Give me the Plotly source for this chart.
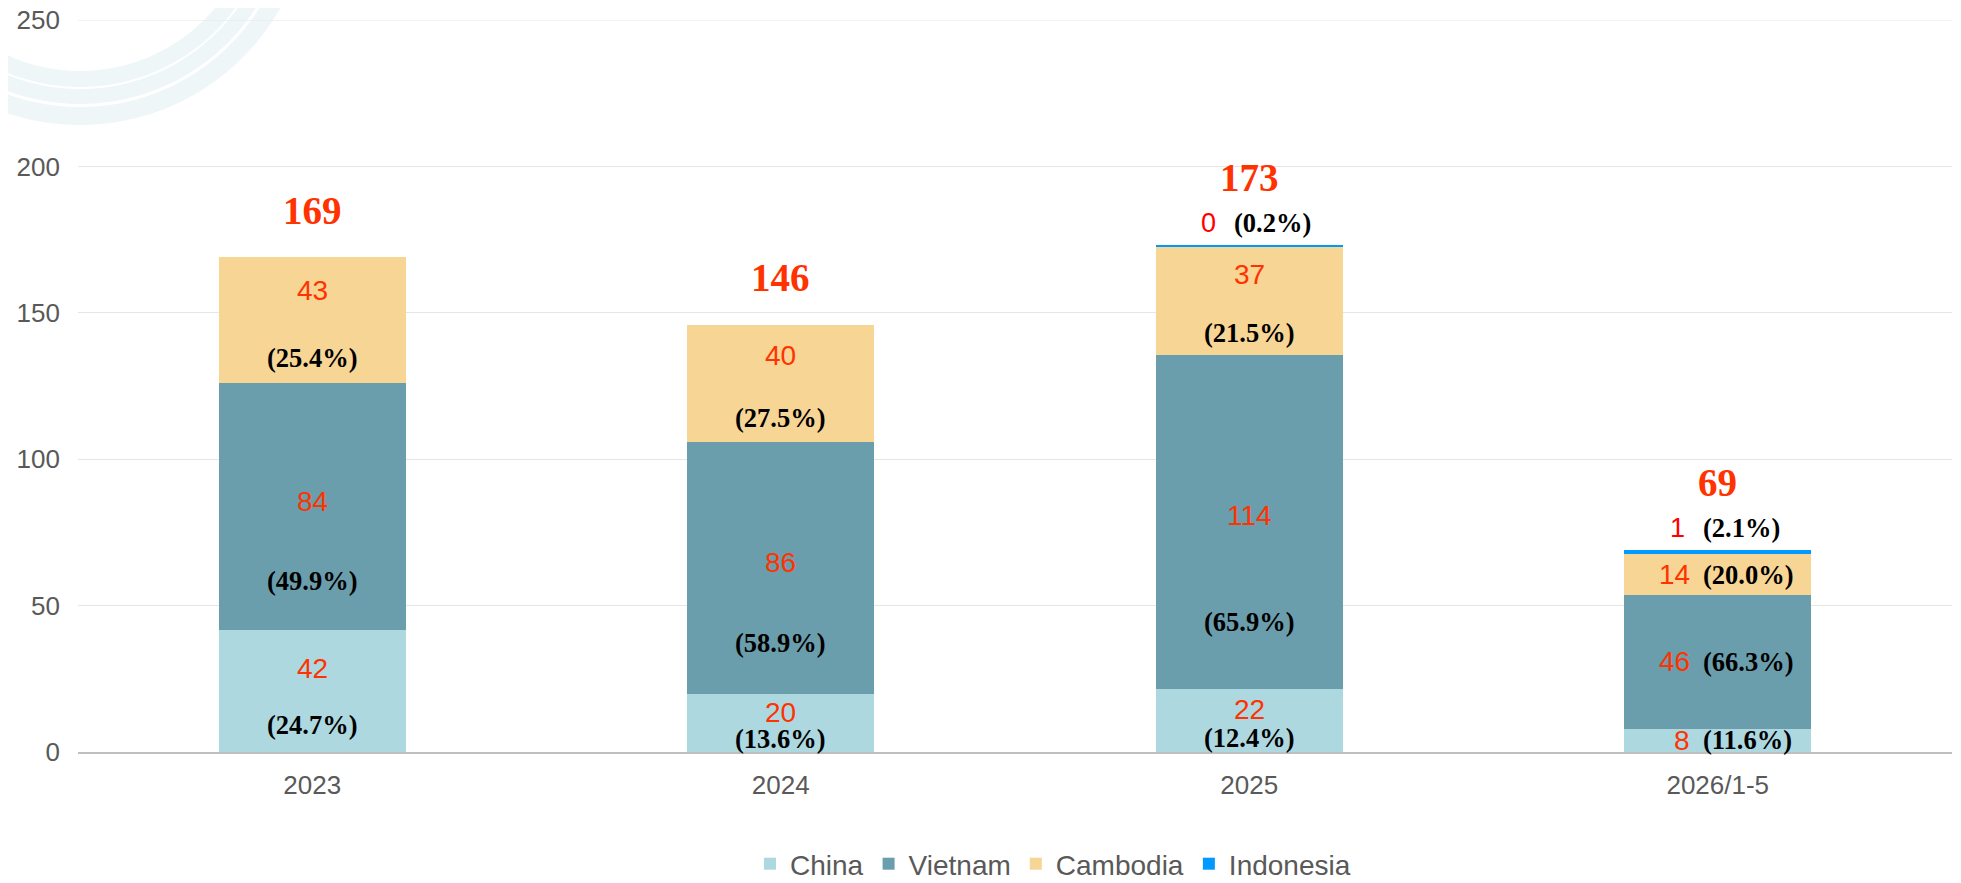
import numpy as np
import plotly.graph_objects as go

# ---------------- data ----------------
categories = ["2023", "2024", "2025", "2026/1-5"]
china = [41.7, 19.9, 21.5, 8.0]
vietnam = [84.3, 86.0, 114.0, 45.7]
cambodia = [42.9, 40.1, 37.2, 13.8]
indonesia = [0.0, 0.0, 0.35, 1.45]
y_ticks = [0, 50, 100, 150, 200, 250]

series_names = ["China", "Vietnam", "Cambodia", "Indonesia"]
series_values = [china, vietnam, cambodia, indonesia]
series_colors = ["#ADD8E0", "#6B9EAC", "#F7D595", "#0099FF"]

# label layout styles
label_mode = ["stacked", "stacked", "stacked", "inline"]
value_frac = {"China": 0.68, "Vietnam": 0.52, "Cambodia": 0.74}
pct_frac = {"China": 0.22, "Vietnam": 0.20, "Cambodia": 0.20}

# page is 1961x883; the html body adds an 8px margin, so the figure is a bit smaller
OFF = 8
W, H = 1961 - OFF, 883 - OFF
PLOT_L, PLOT_R, PLOT_T, PLOT_B = 78 - OFF, 1952 - OFF, 20 - OFF, 752 - OFF
ML, MR, MT, MB = PLOT_L, W - PLOT_R, PLOT_T, H - PLOT_B

RED = "#FF3300"
SANS = "Liberation Sans, Arial, sans-serif"
SERIF = "Liberation Serif, Times New Roman, serif"
PCT_SIZE = 26.5
GRID = "#E6E6E6"

fig = go.Figure()

for name, vals, col in zip(series_names, series_values, series_colors):
    fig.add_trace(go.Bar(
        x=categories, y=vals, name=name,
        marker=dict(color=col, line=dict(width=0)),
        hoverinfo="skip",
    ))

totals = [sum(v[i] for v in series_values) for i in range(len(categories))]

annotations = []
for i, cat in enumerate(categories):
    xi = i  # category serial number on the category axis
    base = 0.0
    tot = totals[i]
    for name, vals in zip(series_names, series_values):
        v = vals[i]
        pct = f"({v / tot * 100:.1f}%)"
        vtxt = f"{v:.0f}"
        if name == "Indonesia":
            if v > 0:
                top = base + v
                annotations.append(dict(x=xi, y=top, text=vtxt, showarrow=False,
                                        xanchor="right", yanchor="middle", xshift=-31, yshift=22,
                                        font=dict(family=SANS, size=27, color="#FF0000")))
                annotations.append(dict(x=xi, y=top, text=f"<b>{pct}</b>", showarrow=False,
                                        xanchor="left", yanchor="middle", xshift=-17, yshift=22,
                                        font=dict(family=SERIF, size=PCT_SIZE, color="#000000")))
            base += v
            continue
        if label_mode[i] == "inline":
            ym = base + v / 2
            annotations.append(dict(x=xi, y=ym, text=vtxt, showarrow=False,
                                    xanchor="right", yanchor="middle", xshift=-26,
                                    font=dict(family=SANS, size=28, color=RED)))
            annotations.append(dict(x=xi, y=ym, text=f"<b>{pct}</b>", showarrow=False,
                                    xanchor="left", yanchor="middle", xshift=-17,
                                    font=dict(family=SERIF, size=PCT_SIZE, color="#000000")))
        else:
            annotations.append(dict(x=xi, y=base + v * value_frac[name], text=vtxt, showarrow=False,
                                    xanchor="center", yanchor="middle",
                                    font=dict(family=SANS, size=28, color=RED)))
            annotations.append(dict(x=xi, y=base + v * pct_frac[name], text=f"<b>{pct}</b>",
                                    showarrow=False, xanchor="center", yanchor="middle",
                                    font=dict(family=SERIF, size=PCT_SIZE, color="#000000")))
        base += v
    shift = 68 if indonesia[i] > 0 else 47
    annotations.append(dict(x=xi, y=tot, text=f"<b>{tot:.0f}</b>", showarrow=False,
                            xanchor="center", yanchor="middle", yshift=shift,
                            font=dict(family=SERIF, size=39, color=RED)))

# decorative faint swirl watermark (top-left), built in page-pixel space -> paper coords
pw, ph = PLOT_R - PLOT_L, PLOT_B - PLOT_T


def px2paper(px, py):
    return (px - OFF - PLOT_L) / pw, (PLOT_B - (py - OFF)) / ph


def ring_path(cx, cy, r_out, r_in, a0, a1, n=120):
    t = np.linspace(a0, a1, n)
    outer = [(cx + r_out * np.cos(a), cy + r_out * np.sin(a)) for a in t]
    inner = [(cx + r_in * np.cos(a), cy + r_in * np.sin(a)) for a in t[::-1]]
    pts = [px2paper(x, y) for x, y in outer + inner]
    d = "M" + " L".join(f"{x:.5f},{y:.5f}" for x, y in pts) + " Z"
    return d


shapes = [
    dict(type="path", xref="paper", yref="paper", layer="below",
         path=ring_path(80, -105, 230, 176, 0.0, np.pi * 1.05),
         fillcolor="#EFF6F8", line=dict(width=0)),
    dict(type="path", xref="paper", yref="paper", layer="below",
         path=ring_path(80, -105, 212, 209, 0.05, np.pi * 0.95),
         fillcolor="#FFFFFF", line=dict(width=0)),
    dict(type="path", xref="paper", yref="paper", layer="below",
         path=ring_path(80, -105, 194, 192, 0.1, np.pi * 0.9),
         fillcolor="#FFFFFF", line=dict(width=0)),
    # top gridline (plotly drops the grid line lying on the plot edge)
    dict(type="line", xref="paper", yref="y", x0=0, x1=1,
         y0=max(y_ticks), y1=max(y_ticks), layer="below",
         line=dict(color=GRID, width=1)),
]

fig.update_layout(
    width=W, height=H,
    margin=dict(l=ML, r=MR, t=MT, b=MB, pad=0, autoexpand=False),
    barmode="stack",
    bargap=0.6,
    paper_bgcolor="#FFFFFF",
    plot_bgcolor="rgba(0,0,0,0)",
    font=dict(family=SANS, color="#595959"),
    showlegend=True,
    legend=dict(orientation="h", xref="paper", yref="paper",
                x=(1053 - OFF - PLOT_L) / pw, xanchor="center",
                y=(PLOT_B - (864 - OFF)) / ph, yanchor="middle",
                traceorder="normal",
                font=dict(family=SANS, size=28, color="#595959"),
                itemwidth=30, tracegroupgap=0, bgcolor="rgba(0,0,0,0)"),
    annotations=annotations,
    shapes=shapes,
    xaxis=dict(type="category", range=[-0.5, len(categories) - 0.5], showgrid=False,
               showline=True, linecolor="#BFBFBF", linewidth=1.5, automargin=False,
               ticks="", tickfont=dict(family=SANS, size=26, color="#595959"),
               ticklabelstandoff=9, fixedrange=True),
    yaxis=dict(range=[0, 250], tickvals=y_ticks, showgrid=True, gridcolor=GRID,
               gridwidth=1, zeroline=False, showline=False, ticks="", automargin=False,
               tickfont=dict(family=SANS, size=26, color="#595959"),
               ticklabeloverflow="allow",
               ticklabelstandoff=17, fixedrange=True),
)

fig.write_html("out.html")
